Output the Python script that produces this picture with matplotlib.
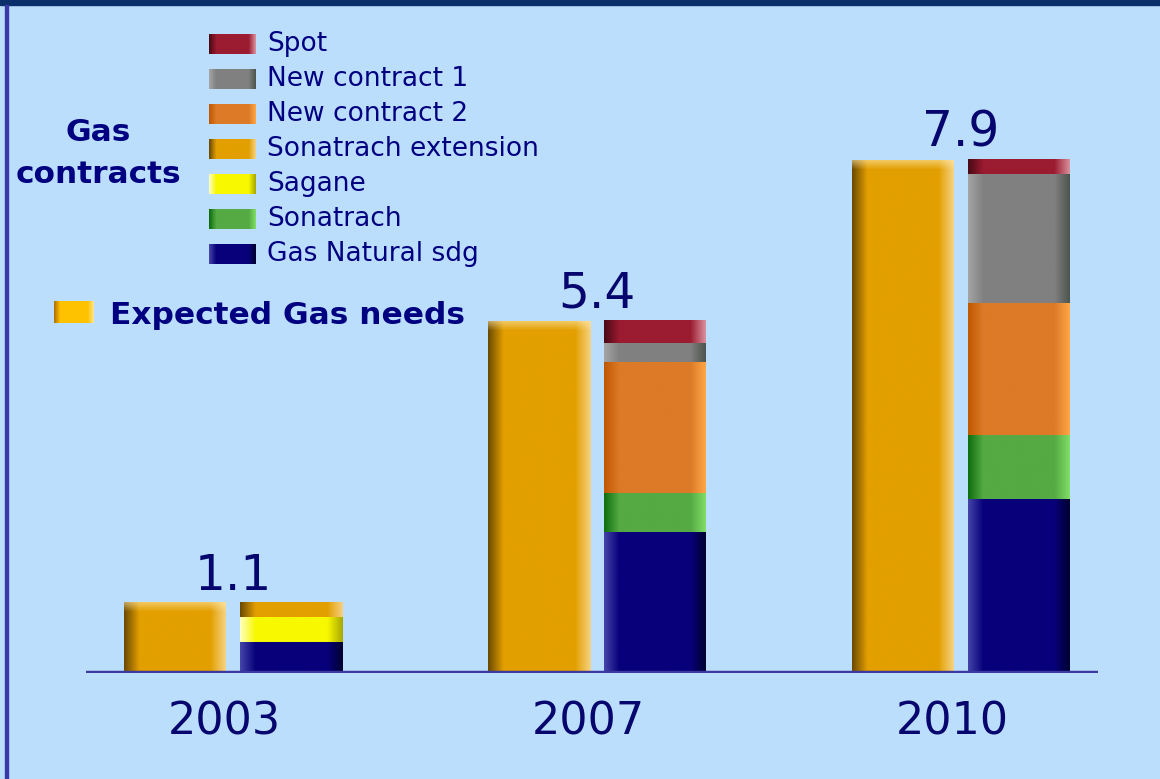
import numpy as np
import matplotlib
matplotlib.use("Agg")
import matplotlib.pyplot as plt
import matplotlib.transforms as mtransforms
from matplotlib.colors import to_rgb
from matplotlib.patches import Rectangle

# ---------------- data ----------------
years = ["2003", "2007", "2010"]
expected_needs = [1.08, 5.42, 7.90]
# contract series, bottom -> top of stack
gas_natural_sdg = [0.48, 2.17, 2.68]
sonatrach = [0.00, 0.60, 0.99]
sagane = [0.38, 0.00, 0.00]
sonatrach_extension = [0.22, 0.00, 0.00]
new_contract_2 = [0.00, 2.02, 2.03]
new_contract_1 = [0.00, 0.29, 1.99]
spot = [0.00, 0.35, 0.23]
total_labels = ["1.1", "5.4", "7.9"]

series_names = ["Gas Natural sdg", "Sonatrach", "Sagane", "Sonatrach extension",
                "New contract 2", "New contract 1", "Spot"]
series_values = [gas_natural_sdg, sonatrach, sagane, sonatrach_extension,
                 new_contract_2, new_contract_1, spot]
# (left edge, body, right edge) colours for the shaded look
series_colors = [
    ("#4444A8", "#07007A", "#000030"),
    ("#0E6E0E", "#55AA44", "#80DD66"),
    ("#FFFFC0", "#F8F800", "#A8A800"),
    ("#6B4A00", "#E39F00", "#F5D080"),
    ("#C05800", "#DC7A28", "#FFA645"),
    ("#A4A4A4", "#808080", "#4E554E"),
    ("#4A0A15", "#9B1B30", "#D8909C"),
]
expected_colors = ("#6B4A00", "#E39F00", "#F6D382")
expected_legend_colors = ("#B07000", "#FFC200", "#FFE48A")

NAVY = "#000080"
BG = "#BBDEFD"

W, H = 1160, 779
fig = plt.figure(figsize=(W / 100, H / 100), dpi=100)
fig.patch.set_facecolor(BG)


def grad_img(colors, ncols=160, nrows=1, top_rows=0, top_color=None):
    left, mid, right = colors
    stops = [0.0, 0.15, 0.85, 1.0]
    cl = [to_rgb(left), to_rgb(mid), to_rgb(mid), to_rgb(right)]
    xs = np.linspace(0, 1, ncols)
    row = np.stack([np.interp(xs, stops, [c[k] for c in cl]) for k in range(3)], axis=-1)
    img = np.repeat(row[None, :, :], nrows, axis=0)
    if top_rows and top_color is not None:
        tc = np.array(to_rgb(top_color))
        for r in range(min(top_rows, nrows)):
            a = 0.55 * (1 - r / top_rows)
            img[r] = img[r] * (1 - a) + tc * a
    return img


# ---------------- main axes (data) ----------------
px_per_unit = 64.9
group_px = 364.0
first_center_px = 233.0
base_px_from_bottom = 106.0
ax = fig.add_axes([0, base_px_from_bottom / H, 1, 10 * px_per_unit / H])
ax.set_facecolor("none")
for s in ax.spines.values():
    s.set_visible(False)

x = np.arange(len(years))
bar_w = 102 / group_px
off = 58 / group_px

exp_bars = ax.bar(x - off, expected_needs, width=bar_w, color=expected_colors[1], zorder=2)
for p in exp_bars:
    x0, y0, w, h = p.get_x(), p.get_y(), p.get_width(), p.get_height()
    nrows = max(int(h * px_per_unit), 2)
    img = grad_img(expected_colors, nrows=nrows, top_rows=9, top_color="#FFE9B0")
    ax.imshow(img, extent=(x0, x0 + w, y0, y0 + h), aspect="auto",
              interpolation="bilinear", origin="upper", zorder=2.5)

bottom = np.zeros(len(years))
for vals, cols in zip(series_values, series_colors):
    vals = np.array(vals)
    bars = ax.bar(x + off, vals, width=bar_w, bottom=bottom, color=cols[1], zorder=2)
    for p in bars:
        x0, y0, w, h = p.get_x(), p.get_y(), p.get_width(), p.get_height()
        if h <= 0:
            continue
        img = grad_img(cols)
        ax.imshow(img, extent=(x0, x0 + w, y0, y0 + h), aspect="auto",
                  interpolation="bilinear", origin="upper", zorder=2.5)
    bottom = bottom + vals

for xi, tot, lab in zip(x, bottom, total_labels):
    ax.text(xi, tot + 0.2, lab, ha="center", va="baseline", fontsize=35,
            color="#06066E", zorder=6)

ax.hlines(0, (86 - first_center_px) / group_px, (1098 - first_center_px) / group_px,
          color="#3A3AA0", lw=3.2, zorder=5)

ax.set_xlim(-first_center_px / group_px, (W - first_center_px) / group_px)
ax.set_ylim(0, 10)
ax.set_xticks(x)
ax.set_xticklabels(years, fontsize=32, color="#06066E")
ax.tick_params(axis="x", length=0, pad=20)
ax.set_yticks([])
shift = mtransforms.ScaledTranslation(-9 / 100, 0, fig.dpi_scale_trans)
for lbl in ax.get_xticklabels():
    lbl.set_transform(lbl.get_transform() + shift)

# ---------------- overlay (legend & frame) ----------------
ov = fig.add_axes([0, 0, 1, 1], zorder=10)
ov.set_facecolor("none")
ov.axis("off")

ov.add_patch(Rectangle((0, 0), W, 5, color="#0A2F6B", zorder=1))
ov.add_patch(Rectangle((5, 5), 3, H - 5, color="#3A3AA6", zorder=1))

legend_order = list(range(len(series_names)))[::-1]
row_y0 = 43.5
row_dy = 35.1
for i, si in enumerate(legend_order):
    yc = row_y0 + i * row_dy
    img = grad_img(series_colors[si], ncols=60)
    ov.imshow(img, extent=(209, 256, yc + 10, yc - 10), aspect="auto",
              interpolation="bilinear", zorder=2)
    ov.text(267, yc, series_names[si], fontsize=19, color=NAVY, va="center", ha="left")

ov.text(98, 132, "Gas", fontsize=22.5, fontweight="bold", color=NAVY, ha="center", va="center")
ov.text(98, 174, "contracts", fontsize=22.5, fontweight="bold", color=NAVY, ha="center", va="center")

img = grad_img(expected_legend_colors, ncols=60)
ov.imshow(img, extent=(54, 94, 323, 301), aspect="auto", interpolation="bilinear", zorder=2)
ov.text(110, 315, "Expected Gas needs", fontsize=22.5, fontweight="bold", color=NAVY,
        ha="left", va="center")

ov.set_xlim(0, W)
ov.set_ylim(H, 0)

fig.savefig("out.png", dpi=100, facecolor=BG)
